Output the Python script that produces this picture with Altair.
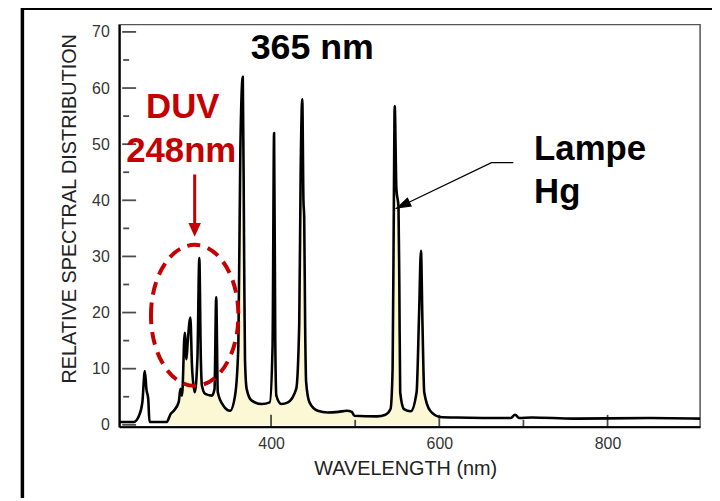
import altair as alt
import pandas as pd

# ---------------- data ----------------
wavelength = [220, 237, 243, 247, 250, 251.8, 254, 255.5, 276, 280.5, 284.4, 290.3, 292.3, 294.2,
              297.4, 299.4, 300.9, 304.1, 306, 309.2, 312.5, 314.7, 316.5, 317.8, 321.8, 329.6,
              332.8, 334.8, 336.7, 343.4, 351.3, 357.2, 361.1, 363.5, 366.4, 368, 369, 371, 377,
              389, 398.5, 401.8, 403.6, 405, 406.3, 412.2, 420, 429.9, 433.5, 435.2, 437.1, 438.5,
              439.4, 440.5, 441.7, 445.7, 455.5, 467.3, 480, 490, 496, 499, 526, 536, 542, 544.5, 546,
              547, 549, 551.5, 552.5, 553.5, 558, 566, 573, 576, 578.2, 580, 582.1, 589.2, 601,
              620, 685, 690, 695, 710, 760, 850, 910]
intensity = [0.5, 0.5, 1.6, 4.0, 9.6, 6.4, 4.6, 0.5, 0.5, 1.9, 2.5, 4.1, 6.4, 5.2,
             16.4, 11.7, 14.7, 19.1, 10.5, 5.8, 12, 29.7, 12, 7.0, 5.5, 5.2,
             6.4, 22.7, 5.8, 3.4, 2.5, 5.2, 14, 49, 62, 30, 11.7, 6.4, 4.3,
             3.7, 4.0, 14, 52, 15, 5.2, 3.7, 4.0, 6.4, 18, 45, 58, 40,
             37, 18, 7.6, 4.0, 2.5, 2.2, 2.3, 2.5, 2.3, 1.6, 1.5, 1.8, 2.8, 10, 40,
             56.8, 42, 38.8, 24.4, 5.8, 2.8, 2.4, 5.8, 20, 31, 18, 5.8, 2.5, 1.4,
             1.3, 1.2, 1.8, 1.2, 1.3, 1.1, 1.2, 1.1]

y_major = [0, 10, 20, 30, 40, 50, 60, 70]
y_minor = [5, 15, 25, 35, 45, 55, 65]
x_major = [400, 600, 800]
x_minor = [500, 700]

black_labels = ["365 nm", "Lampe", "Hg"]
black_label_wl = [449, 712.7, 712.7]
black_label_v = [65.1, 47.1, 39.5]
black_label_align = ["center", "left", "left"]

red_labels = ["DUV", "248nm"]
red_label_wl = [295, 293.2]
red_label_v = [54.7, 46.8]

red_arrow_wl = [309.2]
red_arrow_top = [44.6]
red_arrow_bottom = [35.5]
red_arrow_tip = [33.5]

ellipse_wl = [309.2]
ellipse_v = [19.5]

black_arrow_wl = [688.0, 662.0, 547.9]
black_arrow_v = [46.7, 46.7, 38.5]

# ---------------- chart ----------------
RED = "#c40000"
FONT = "Liberation Sans"
W, H = 585, 405

xs = alt.Scale(domain=[219.5, 910], nice=False, zero=False)
ys = alt.Scale(domain=[-0.35, 71.3], nice=False, zero=False)

df = pd.DataFrame({"wl": wavelength, "v": intensity})

X = alt.X("wl:Q", scale=xs,
          axis=alt.Axis(values=x_major, tickSize=0, labelPadding=9, grid=False,
                        domainColor="black", domainWidth=2.2, labelFontSize=16,
                        labelColor="#333", title="WAVELENGTH (nm)", titleFontSize=20,
                        titleFontWeight="normal", titleColor="#222", titleX=288,
                        titleY=42, titleBaseline="middle"))
Y = alt.Y("v:Q", scale=ys,
          axis=alt.Axis(values=y_major, tickSize=0, labelPadding=10, grid=False,
                        domainColor="black", domainWidth=2.2, labelFontSize=16,
                        labelColor="#333", title="RELATIVE SPECTRAL DISTRIBUTION",
                        titleFontSize=20, titleFontWeight="normal", titleColor="#222",
                        titleAngle=-90, titleX=-50, titleY=185, titleAlign="center",
                        titleBaseline="middle"))

area = alt.Chart(df).transform_filter("datum.wl >= 276 && datum.wl <= 605").mark_area(
    color="#fcf8d6", interpolate="monotone").encode(
    x=alt.X("wl:Q", scale=xs), y=alt.Y("v:Q", scale=ys))

line = alt.Chart(df).mark_line(color="black", strokeWidth=2.6, strokeJoin="round",
                               interpolate="monotone").encode(x=X, y=Y)

ytick_major = alt.Chart(pd.DataFrame({"v": y_major})).mark_tick(
    color="black", size=14, thickness=1.8).encode(y=alt.Y("v:Q", scale=ys), x=alt.value(10))
ytick_minor = alt.Chart(pd.DataFrame({"v": y_minor})).mark_tick(
    color="black", size=6, thickness=1.8).encode(y=alt.Y("v:Q", scale=ys), x=alt.value(7))
xtick_major = alt.Chart(pd.DataFrame({"wl": x_major})).mark_tick(
    color="black", size=12, thickness=1.8).encode(x=alt.X("wl:Q", scale=xs), y=alt.value(H - 6))
xtick_minor = alt.Chart(pd.DataFrame({"wl": x_minor})).mark_tick(
    color="black", size=7, thickness=1.8).encode(x=alt.X("wl:Q", scale=xs), y=alt.value(H - 3.5))

bl = pd.DataFrame({"wl": black_label_wl, "v": black_label_v, "t": black_labels,
                   "al": black_label_align})
black_center = alt.Chart(bl[bl.al == "center"]).mark_text(
    font=FONT, fontSize=36, fontWeight="bold", color="black", align="center",
    baseline="alphabetic").encode(x=alt.X("wl:Q", scale=xs), y=alt.Y("v:Q", scale=ys), text="t:N")
black_left = alt.Chart(bl[bl.al == "left"]).mark_text(
    font=FONT, fontSize=35, fontWeight="bold", color="black", align="left",
    baseline="alphabetic").encode(x=alt.X("wl:Q", scale=xs), y=alt.Y("v:Q", scale=ys), text="t:N")

rl = pd.DataFrame({"wl": red_label_wl, "v": red_label_v, "t": red_labels})
red_text = alt.Chart(rl).mark_text(
    font=FONT, fontSize=35, fontWeight="bold", color=RED, align="center",
    baseline="alphabetic").encode(x=alt.X("wl:Q", scale=xs), y=alt.Y("v:Q", scale=ys), text="t:N")

ra = pd.DataFrame({"wl": red_arrow_wl, "v": red_arrow_top, "v2": red_arrow_bottom})
red_shaft = alt.Chart(ra).mark_rule(color=RED, strokeWidth=3).encode(
    x=alt.X("wl:Q", scale=xs), y=alt.Y("v:Q", scale=ys), y2="v2:Q")
red_head = alt.Chart(pd.DataFrame({"wl": red_arrow_wl, "v": red_arrow_tip})).mark_point(
    shape="M 0 0 L -1 -0.45 L -1 0.45 Z", filled=True, color=RED, opacity=1,
    size=784, angle=90).encode(x=alt.X("wl:Q", scale=xs), y=alt.Y("v:Q", scale=ys))

ellipse = alt.Chart(pd.DataFrame({"wl": ellipse_wl, "v": ellipse_v})).mark_point(
    shape="M -0.62 0 A 0.62 1 0 1 1 0.62 0 A 0.62 1 0 1 1 -0.62 0 Z",
    filled=False, color=RED, opacity=1, strokeWidth=4, strokeDash=[13, 8],
    size=20164).encode(x=alt.X("wl:Q", scale=xs), y=alt.Y("v:Q", scale=ys))

ba = pd.DataFrame({"wl": black_arrow_wl, "v": black_arrow_v, "o": [0, 1, 2]})
black_shaft = alt.Chart(ba).mark_line(color="black", strokeWidth=1.3).encode(
    x=alt.X("wl:Q", scale=xs), y=alt.Y("v:Q", scale=ys), order="o:Q")
black_head = alt.Chart(ba[ba.o == 2]).mark_point(
    shape="M 0 0 L -1 -0.32 L -1 0.32 Z", filled=True, color="black", opacity=1,
    size=1024, angle=154.4).encode(x=alt.X("wl:Q", scale=xs), y=alt.Y("v:Q", scale=ys))

frame = alt.Chart(pd.DataFrame({"a": [0]})).mark_rect(
    fill="transparent", stroke="black", strokeWidth=3.5).encode(
    x=alt.value(-97.5), x2=alt.value(W + 120), y=alt.value(-16.5), y2=alt.value(H + 120))

chart = alt.layer(
    area, line, ytick_major, ytick_minor, xtick_major, xtick_minor,
    ellipse, red_shaft, red_head, red_text, black_center, black_left,
    black_shaft, black_head, frame
).properties(
    width=W, height=H,
    autosize=alt.AutoSizeParams(type="none"),
    padding={"left": 112, "top": 15, "right": 12, "bottom": 70},
).configure(font=FONT).configure_view(stroke="#555", strokeWidth=1.5)

chart.save("out.html", embed_options={"renderer": "svg", "actions": False})
